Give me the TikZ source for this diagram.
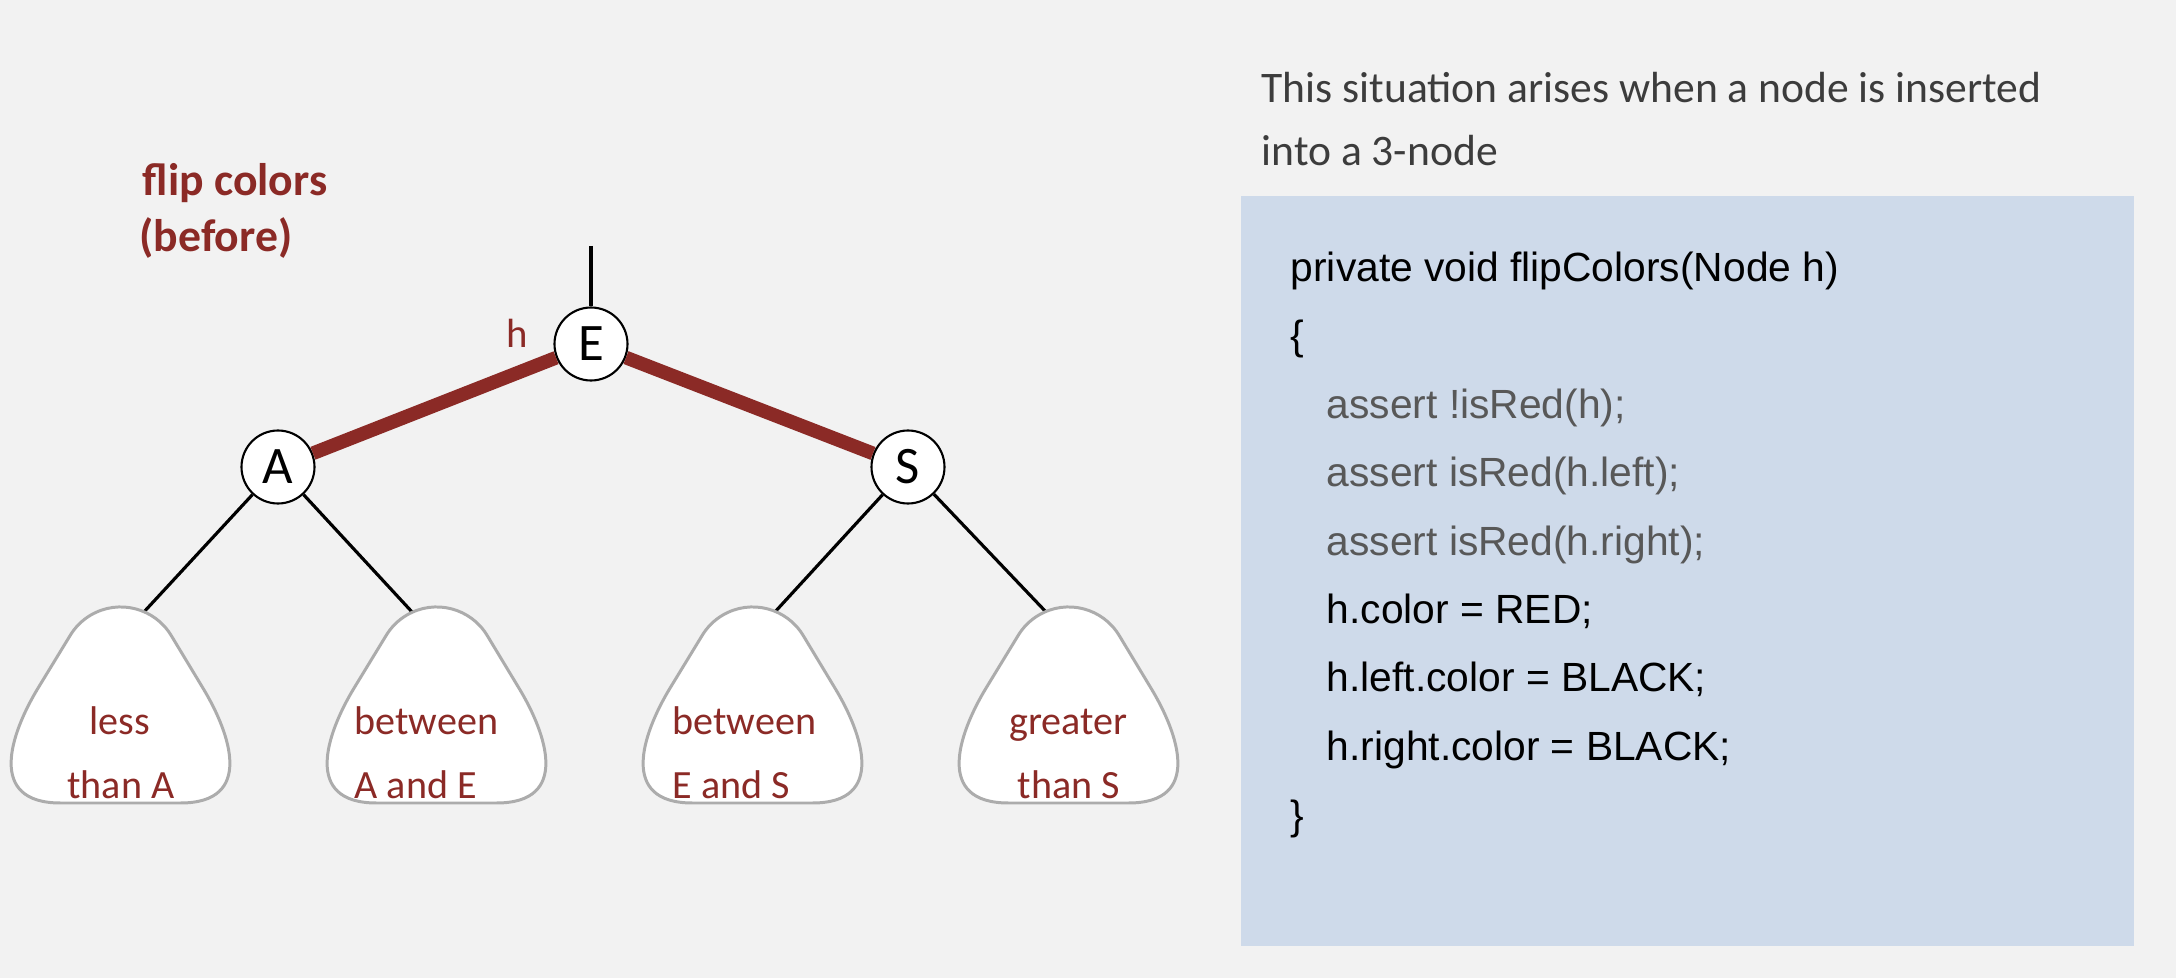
\documentclass[tikz,border=0pt]{standalone}
\usepackage{fontspec}
\usepackage{tikz}

\newfontfamily\treefont{Carlito}
\newfontfamily\codefont{Liberation Sans}

\definecolor{darkred}{RGB}{139,42,38}
\definecolor{pagebg}{RGB}{242,242,242}
\definecolor{codebg}{RGB}{206,218,234}
\definecolor{treegray}{RGB}{172,172,172}
\definecolor{assertgray}{RGB}{88,88,88}
\definecolor{notegray}{RGB}{60,60,60}

\begin{document}
\begin{tikzpicture}[x = 0.1mm, y = -0.1mm,
    vertex/.style = {circle, draw, fill = white, line width = 0.6pt,
        minimum size = 7.3mm, inner sep = 0pt,
        font = \treefont\fontsize{15}{15}\selectfont},
    redlink/.style = {line width = 3.9pt, darkred},
    link/.style = {line width = 0.9pt},
    subtree/.style = {draw = treegray, line width = 0.85pt, fill = white},
    subtext/.style = {inner sep = 0pt, text = darkred,
        font = \treefont\fontsize{11.4}{13}\selectfont},
    code/.style = {anchor = base west, inner sep = 0pt,
        font = \codefont\fontsize{11.6}{13}\selectfont}]
    \useasboundingbox (0, 0) rectangle (2176, 978);
    \fill[pagebg] (0, 0) rectangle (2176, 978);

    %% title
    \node[subtext, anchor = base west, font = \treefont\bfseries\fontsize{13}{15}\selectfont]
        (title) at (142, 196) {flip colors};
    \node[subtext, anchor = base west, font = \treefont\bfseries\fontsize{13}{15}\selectfont]
        (before) at (139, 252) {(before)};

    %% note
    \node[anchor = base west, inner sep = 0pt, text = notegray,
        font = \treefont\fontsize{12.4}{14}\selectfont]
        (note1) at (1261, 103) {This situation arises when a node is inserted};
    \node[anchor = base west, inner sep = 0pt, text = notegray,
        font = \treefont\fontsize{12.4}{14}\selectfont]
        (note2) at (1261, 166) {into a 3-node};

    %% code
    \fill[codebg] (1241, 196) rectangle (2134, 946);
    \node[code] (c0) at (1290, 282) {private void flipColors(Node h)};
    \node[code] (c1) at (1290, 350) {\{};
    \node[code, text = assertgray] (c2) at (1326, 419) {assert !isRed(h);};
    \node[code, text = assertgray] (c3) at (1326, 487) {assert isRed(h.left);};
    \node[code, text = assertgray] (c4) at (1326, 555) {assert isRed(h.right);};
    \node[code] (c5) at (1326, 624) {h.color = RED;};
    \node[code] (c6) at (1326, 692) {h.left.color = BLACK;};
    \node[code] (c7) at (1326, 760) {h.right.color = BLACK;};
    \node[code] (c8) at (1290, 829) {\}};

    %% tree
    \node[vertex] (E) at (591, 344) {E};
    \node[vertex] (A) at (278, 467) {A};
    \node[vertex] (S) at (908, 467) {S};
    \node[subtext, anchor = base, font = \treefont\fontsize{11.6}{13}\selectfont]
        (h) at (517, 348) {h};

    \coordinate (up) at (591, 246);
    \coordinate (t1) at (143, 613);
    \coordinate (t2) at (413, 613);
    \coordinate (t3) at (774, 613);
    \coordinate (t4) at (1047, 613);

    \draw[link] (up) -- (E);
    \draw[redlink] (E) -- (A);
    \draw[redlink] (E) -- (S);
    \draw[link] (A) -- (t1);
    \draw[link] (A) -- (t2);
    \draw[link] (S) -- (t3);
    \draw[link] (S) -- (t4);

    %% subtrees
    \foreach \cx in {120.5, 436.5, 752.5, 1068.5}
        \draw[subtree, shift = {(\cx, 607)}]
            (-60, 196) -- (60, 196)
            .. controls (134, 196) and (110, 127) .. (83, 82)
            -- (51, 29)
            arc[start angle = -30.5, end angle = -149.5, radius = 59]
            -- (-83, 82)
            .. controls (-110, 127) and (-134, 196) .. (-60, 196) -- cycle;

    \node[subtext, anchor = base] (less) at (120, 734) {less};
    \node[subtext, anchor = base] (thanA) at (121, 798) {than A};
    \node[subtext, anchor = base west] (btwAE) at (354, 734) {between};
    \node[subtext, anchor = base west] (AandE) at (354, 798) {A and E};
    \node[subtext, anchor = base west] (btwES) at (672, 734) {between};
    \node[subtext, anchor = base west] (EandS) at (672, 798) {E and S};
    \node[subtext, anchor = base] (greater) at (1068.5, 734) {greater};
    \node[subtext, anchor = base] (thanS) at (1069, 798) {than S};
\end{tikzpicture}
\end{document}
